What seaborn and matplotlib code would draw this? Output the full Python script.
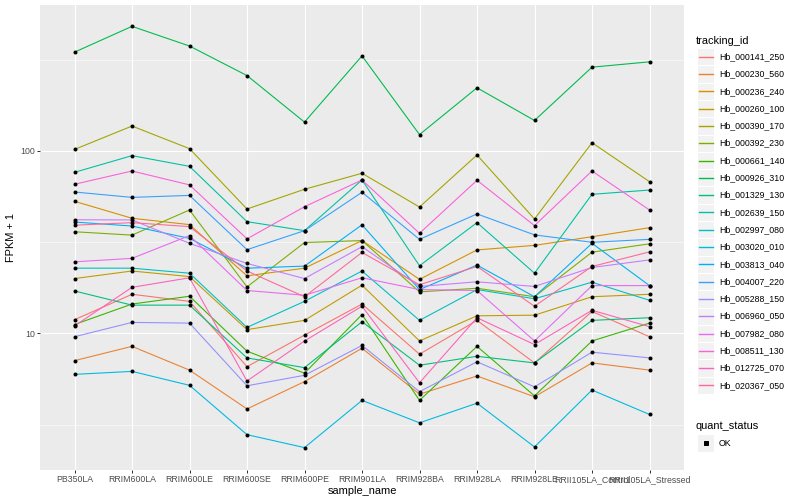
import matplotlib
matplotlib.use("Agg")
import matplotlib.pyplot as plt
from matplotlib.patches import Rectangle
from matplotlib.lines import Line2D
import numpy as np
import pandas as pd
import seaborn as sns

samples = ['PB350LA', 'RRIM600LA', 'RRIM600LE', 'RRIM600SE', 'RRIM600PE', 'RRIM901LA',
           'RRIM928BA', 'RRIM928LA', 'RRIM928LE', 'RRII105LA_Control', 'RRII105LA_Stressed']

tracking_ids = ['Hb_000141_250', 'Hb_000230_560', 'Hb_000236_240', 'Hb_000260_100', 'Hb_000390_170',
                'Hb_000392_230', 'Hb_000661_140', 'Hb_000926_310', 'Hb_001329_130', 'Hb_002639_150',
                'Hb_002997_080', 'Hb_003020_010', 'Hb_003813_040', 'Hb_004007_220', 'Hb_005288_150',
                'Hb_006960_050', 'Hb_007982_080', 'Hb_008511_130', 'Hb_012725_070', 'Hb_020367_050']

# FPKM + 1 per sample
hb_000141_250 = [11.9, 16.4, 15.0, 6.58, 9.8, 14.5, 7.7, 11.8, 6.9, 13.2, 9.6]
hb_000230_560 = [7.1, 8.5, 6.3, 3.86, 5.45, 8.3, 4.65, 5.85, 4.5, 6.9, 6.3]
hb_000236_240 = [53, 42.8, 39.5, 20.7, 22.8, 32.3, 19.8, 28.7, 30.4, 33.9, 38.0]
hb_000260_100 = [20.0, 22.0, 20.5, 10.5, 11.8, 18.4, 9.1, 12.5, 12.6, 15.9, 16.4]
hb_000390_170 = [102, 137, 103, 48.1, 61.7, 75.5, 49.3, 95.1, 42.4, 111, 67.9]
hb_000392_230 = [36.1, 34.6, 47.5, 18.0, 31.5, 32.3, 16.9, 17.7, 15.9, 27.9, 31.0]
hb_000661_140 = [11.2, 14.5, 16.0, 8.0, 6.06, 12.7, 4.3, 8.5, 4.55, 9.1, 11.4]
hb_000926_310 = [348, 482, 376, 259, 144, 332, 123, 222, 147, 288, 308]
hb_001329_130 = [17.1, 14.3, 14.3, 7.35, 6.5, 11.6, 6.7, 7.5, 6.9, 11.8, 12.2]
hb_002639_150 = [76.4, 94.3, 82.4, 41.0, 36.6, 69.4, 23.5, 40.5, 21.4, 57.9, 61.1]
hb_002997_080 = [22.8, 22.8, 21.4, 10.8, 15.0, 22.0, 11.8, 17.4, 15.5, 19.1, 15.2]
hb_003020_010 = [5.97, 6.2, 5.2, 2.79, 2.37, 4.3, 3.24, 4.15, 2.39, 4.9, 3.6]
hb_003813_040 = [40.8, 38.8, 33.2, 22.8, 23.4, 39.4, 17.4, 23.7, 15.9, 31.2, 18.3]
hb_004007_220 = [59.6, 55.7, 57.1, 28.8, 36.6, 59.4, 32.8, 45.2, 34.7, 31.6, 32.8]
hb_005288_150 = [9.6, 11.5, 11.4, 5.17, 5.9, 8.6, 4.8, 7.0, 5.1, 7.9, 7.35]
hb_006960_050 = [42, 41.9, 31.2, 24.2, 20.0, 29.9, 18.1, 19.2, 18.1, 23.0, 25.3]
hb_007982_080 = [24.7, 25.8, 34.4, 17.2, 16.2, 20.2, 17.4, 17.2, 9.1, 18.3, 18.3]
hb_008511_130 = [65.7, 77.7, 65.2, 33.0, 49.5, 69.4, 35.4, 69.1, 39.0, 77.7, 47.5]
hb_012725_070 = [11.0, 17.9, 20.2, 5.49, 9.1, 14.1, 5.37, 12.2, 8.7, 13.4, 10.9]
hb_020367_050 = [39.2, 40.5, 38.5, 22.0, 15.9, 27.8, 18.5, 23.3, 14.1, 23.3, 28.0]

series = [hb_000141_250, hb_000230_560, hb_000236_240, hb_000260_100, hb_000390_170,
          hb_000392_230, hb_000661_140, hb_000926_310, hb_001329_130, hb_002639_150,
          hb_002997_080, hb_003020_010, hb_003813_040, hb_004007_220, hb_005288_150,
          hb_006960_050, hb_007982_080, hb_008511_130, hb_012725_070, hb_020367_050]


def hcl_hex(h, c=100, l=65):
    # ggplot2 hue_pal colours (polar LUV -> sRGB)
    hr = np.deg2rad(h)
    u, v = c * np.cos(hr), c * np.sin(hr)
    Y = ((l + 16) / 116) ** 3
    up = u / (13 * l) + 0.1978398
    vp = v / (13 * l) + 0.4683363
    X = 9 * Y * up / (4 * vp)
    Z = Y * (12 - 3 * up - 20 * vp) / (4 * vp)
    m = np.array([[3.2404542, -1.5371385, -0.4985314],
                  [-0.9692660, 1.8760108, 0.0415560],
                  [0.0556434, -0.2040259, 1.0572252]])
    rgb = m @ np.array([X, Y, Z])
    rgb = np.where(rgb <= 0.0031308, 12.92 * rgb, 1.055 * np.abs(rgb) ** (1 / 2.4) - 0.055)
    return tuple(np.clip(rgb, 0, 1))


hues = np.linspace(15, 375, len(tracking_ids) + 1)[:-1]
colors = [hcl_hex(h) for h in hues]
palette = dict(zip(tracking_ids, colors))

rows = []
for tid, vals in zip(tracking_ids, series):
    for s, v in zip(samples, vals):
        rows.append({'tracking_id': tid, 'sample_name': s, 'fpkm': v, 'quant_status': 'OK'})
df = pd.DataFrame(rows)

plt.rcParams['font.family'] = ['Liberation Sans', 'DejaVu Sans']

W, H = 800, 500
fig = plt.figure(figsize=(W / 72, H / 72), dpi=72)
ax = fig.add_axes([40 / W, 30 / H, 644 / W, 465 / H])
ax.set_facecolor('#EBEBEB')

sns.lineplot(data=df, x='sample_name', y='fpkm', hue='tracking_id', palette=palette,
             estimator=None, sort=False, linewidth=1.1, legend=False, ax=ax)
sns.scatterplot(data=df, x='sample_name', y='fpkm', color='black', s=16,
                linewidth=0, legend=False, ax=ax, zorder=5)

ax.set_yscale('log')
ax.set_ylim(10 ** 0.252, 10 ** 2.80)
ax.set_xlim(-0.6, len(samples) - 0.4)
ax.set_yticks([10, 100])
ax.set_yticklabels(['10', '100'])
ax.set_yticks([10 ** 0.5, 10 ** 1.5, 10 ** 2.5], minor=True)
ax.yaxis.set_minor_formatter(plt.NullFormatter())
ax.grid(True, which='major', color='white', linewidth=1.1)
ax.grid(True, which='minor', axis='y', color='white', linewidth=0.55)
ax.set_axisbelow(True)
for sp in ax.spines.values():
    sp.set_visible(False)
ax.tick_params(axis='both', which='major', length=2.75, width=1.0, color='#333333',
               labelsize=8.8, labelcolor='#4D4D4D', pad=2.2)
ax.tick_params(axis='y', which='minor', length=0)
ax.set_xlabel('sample_name', fontsize=11, labelpad=2)
ax.set_ylabel('FPKM + 1', fontsize=11, labelpad=4)


def fx(x):
    return x / W


def fy(y):
    return 1 - y / H


# legend: tracking_id
fig.text(fx(696), fy(41), 'tracking_id', fontsize=11, va='center', ha='left')
step = 17.3
y0 = 56.7
for i, (tid, col) in enumerate(zip(tracking_ids, colors)):
    yc = y0 + i * step
    fig.add_artist(Rectangle((fx(697), fy(yc + step / 2)), step / W, step / H,
                             transform=fig.transFigure, facecolor='#F2F2F2',
                             edgecolor='white', linewidth=1, zorder=1))
    fig.add_artist(Line2D([fx(698.7), fx(712.6)], [fy(yc), fy(yc)], transform=fig.transFigure,
                          color=col, linewidth=1.4, zorder=3))
    fig.text(fx(719), fy(yc), tid, fontsize=8.8, va='center', ha='left')

# legend: quant_status
fig.text(fx(696), fy(426), 'quant_status', fontsize=11, va='center', ha='left')
yk = 443
fig.add_artist(Rectangle((fx(697), fy(yk + step / 2)), step / W, step / H,
                         transform=fig.transFigure, facecolor='#F2F2F2',
                         edgecolor='white', linewidth=1, zorder=1))
fig.add_artist(Line2D([fx(705.6)], [fy(yk)], transform=fig.transFigure, color='black',
                      marker='s', markersize=3.2, linestyle='none', zorder=3))
fig.text(fx(719), fy(yk), 'OK', fontsize=8.8, va='center', ha='left')

fig.savefig('out.png', dpi=72, facecolor='white')
